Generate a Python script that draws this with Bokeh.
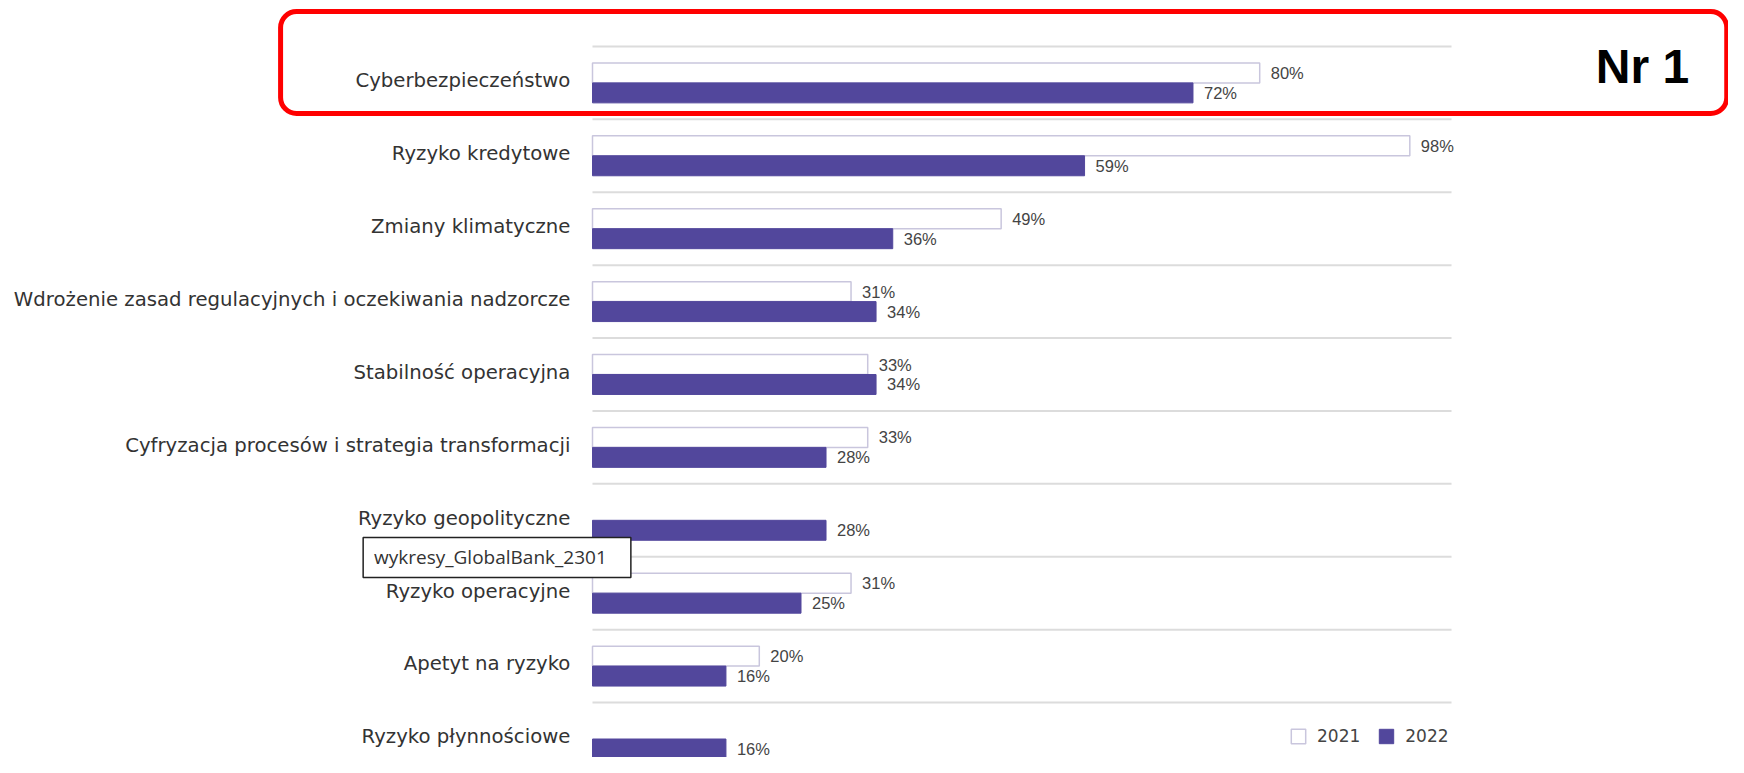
from bokeh.plotting import figure
from bokeh.models import ColumnDataSource, Range1d, BoxAnnotation, Label, Legend, LegendItem
from bokeh.core.properties import value
from bokeh.embed import file_html
from bokeh.resources import INLINE

categories = [
    "Cyberbezpieczeństwo",
    "Ryzyko kredytowe",
    "Zmiany klimatyczne",
    "Wdrożenie zasad regulacyjnych i oczekiwania nadzorcze",
    "Stabilność operacyjna",
    "Cyfryzacja procesów i strategia transformacji",
    "Ryzyko geopolityczne",
    "Ryzyko operacyjne",
    "Apetyt na ryzyko",
    "Ryzyko płynnościowe",
]
v2021 = [80, 98, 49, 31, 33, 33, None, 31, 20, None]
v2022 = [72, 59, 36, 34, 34, 28, 28, 25, 16, 16]
series_names = ["2021", "2022"]

W, H = 1728, 757
PXX = 8.34   # px per percent
PXY = 72.9   # px per category
X0 = 592     # local px of value 0
Y0 = 82.4    # local px of first category centre

xs = -X0 / PXX
ys = -Y0 / PXY
p = figure(width=W, height=H, output_backend="svg", toolbar_location=None,
           x_range=Range1d(xs, xs + W / PXX),
           y_range=Range1d(ys + H / PXY, ys),
           min_border=0, outline_line_color=None)
p.axis.visible = False
p.grid.visible = False
p.background_fill_color = "white"

PURPLE = "#52479c"
LIGHT = "#c9c6dd"
OFF = 0.137
BH = 0.274

idx = list(range(len(categories)))

# separators between groups
p.segment(x0=[0] * len(idx), x1=[103] * len(idx), y0=[i - 0.5 for i in idx],
          y1=[i - 0.5 for i in idx], line_color="#dcdcdc", line_width=2)

i21 = [i for i in idx if v2021[i] is not None]
src21 = ColumnDataSource(dict(y=[i - OFF for i in i21], v=[v2021[i] for i in i21],
                              lab=[f"{v2021[i]}%" for i in i21]))
src22 = ColumnDataSource(dict(y=[i + OFF for i in idx], v=v2022,
                              lab=[f"{v}%" for v in v2022]))

r21 = p.hbar(y="y", left=0, right="v", height=BH, source=src21,
             fill_color="white", line_color=LIGHT, line_width=1.5)
r22 = p.hbar(y="y", left=0, right="v", height=BH, source=src22,
             fill_color=PURPLE, line_color=PURPLE, line_width=1)

for src in (src21, src22):
    p.text(x="v", y="y", text="lab", source=src, x_offset=11,
           text_align="left", text_baseline="middle",
           text_font=value("Liberation Sans"), text_font_size="16.5px",
           text_color="#444444")

p.text(x=[-2.65] * len(idx), y=[i - 0.03 for i in idx], text=categories,
       text_align="right", text_baseline="middle",
       text_font=value("DejaVu Sans"), text_font_size="19.7px",
       text_color="#333333")

legend = Legend(items=[LegendItem(label=series_names[0], renderers=[r21]),
                       LegendItem(label=series_names[1], renderers=[r22])],
                location=(1289, 11), orientation="horizontal",
                glyph_width=18, glyph_height=18, label_height=18,
                label_standoff=10, spacing=17, padding=0, margin=0,
                border_line_color=None, background_fill_alpha=0,
                label_text_font="DejaVu Sans", label_text_font_size="17px",
                label_text_color="#444444")
p.add_layout(legend)

# red highlight frame
p.add_layout(BoxAnnotation(left=-37.4, right=136.0, top=-0.979, bottom=0.42,
                           fill_alpha=0, line_color="#ff0000", line_width=5,
                           line_alpha=1, border_radius=16))
p.add_layout(Label(x=125.9, y=-0.225, text="Nr 1", text_align="center",
                   text_baseline="middle", text_font="Liberation Sans",
                   text_font_style="bold", text_font_size="48px",
                   text_color="black"))

# file-name tooltip box
p.add_layout(BoxAnnotation(left=-27.5, right=4.6, top=6.236, bottom=6.785,
                           fill_color="white", fill_alpha=1, line_color="#222222",
                           line_width=1.5, line_alpha=1))
p.add_layout(Label(x=-26.2, y=6.51, text="wykresy_GlobalBank_2301",
                   text_align="left", text_baseline="middle",
                   text_font="Open Sans", text_font_size="19px",
                   text_color="#333333"))

open("out.html", "w").write(file_html(p, INLINE))
